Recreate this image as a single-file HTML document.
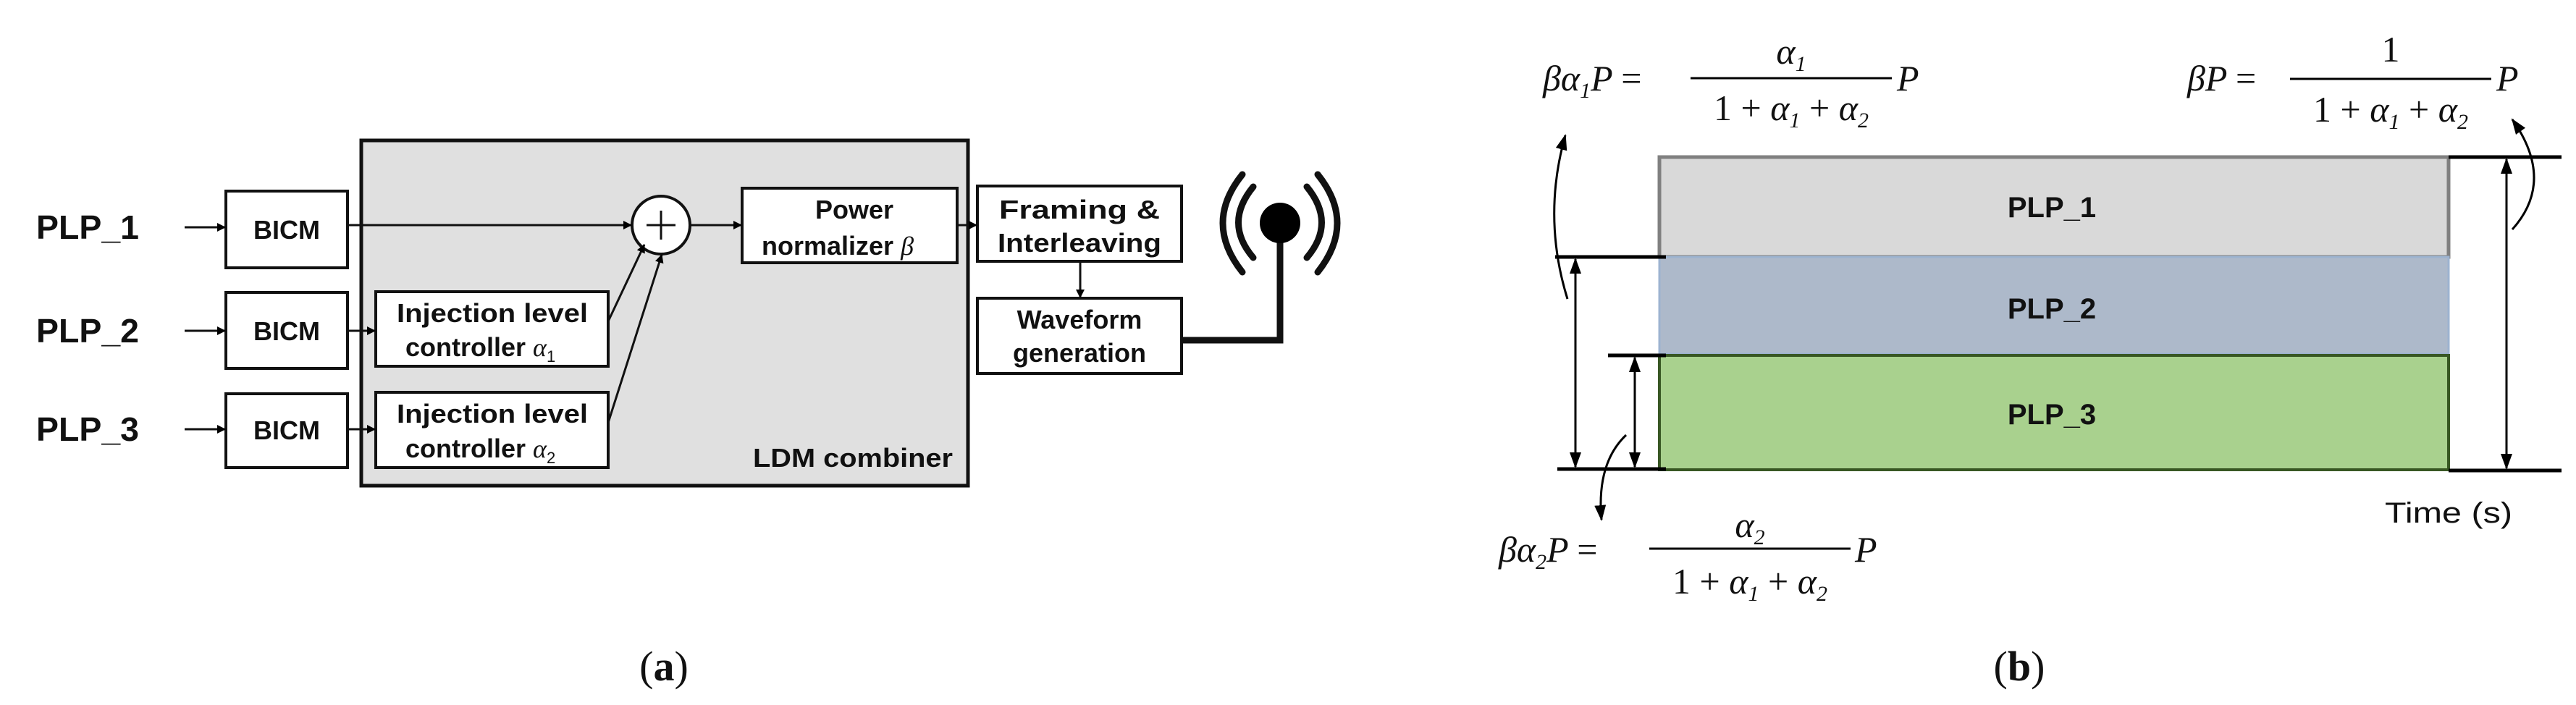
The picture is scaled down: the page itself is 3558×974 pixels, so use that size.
<!DOCTYPE html>
<html><head><meta charset="utf-8"><style>
html,body{margin:0;padding:0;background:#fff;}
svg{display:block;}
.b{font-family:"Liberation Sans",sans-serif;font-weight:bold;fill:#111;}
.m{font-family:"Liberation Serif",serif;font-style:italic;fill:#111;}
.r{font-family:"Liberation Serif",serif;font-style:normal;fill:#111;}
</style></head><body>
<svg width="3558" height="974" viewBox="0 0 3558 974" xmlns="http://www.w3.org/2000/svg">
<defs>
<marker id="ah" markerWidth="12" markerHeight="12" refX="11" refY="6" orient="auto" markerUnits="userSpaceOnUse">
<path d="M0,0 L12,6 L0,12 z" fill="#000"/></marker>
<marker id="ah2" markerWidth="22" markerHeight="22" refX="20" refY="11" orient="auto-start-reverse" markerUnits="userSpaceOnUse">
<path d="M0,3 L22,11 L0,19 z" fill="#000"/></marker>
</defs>
<!-- (a) -->
<g stroke="#111" stroke-width="4" fill="none">
<rect x="499" y="194" width="838" height="477" fill="#e0e0e0" stroke-width="5"/>
<rect x="312" y="264" width="168" height="106" fill="#fff"/>
<rect x="312" y="404" width="168" height="105" fill="#fff"/>
<rect x="312" y="544" width="168" height="102" fill="#fff"/>
<rect x="519" y="403" width="321" height="103" fill="#fff"/>
<rect x="519" y="542" width="321" height="104" fill="#fff"/>
<rect x="1025" y="260" width="297" height="103" fill="#fff"/>
<rect x="1350" y="257" width="282" height="104" fill="#fff"/>
<rect x="1350" y="412" width="282" height="104" fill="#fff"/>
<circle cx="913" cy="311" r="40" fill="#fff"/>
<line x1="893" y1="311" x2="933" y2="311" stroke-width="3"/>
<line x1="913" y1="291" x2="913" y2="331" stroke-width="3"/>
<g stroke-width="3" marker-end="url(#ah)">
<line x1="255" y1="314" x2="311" y2="314"/>
<line x1="255" y1="457" x2="311" y2="457"/>
<line x1="255" y1="593" x2="311" y2="593"/>
<line x1="480" y1="311" x2="872" y2="311"/>
<line x1="480" y1="457" x2="518" y2="457"/>
<line x1="480" y1="593" x2="518" y2="593"/>
<line x1="840" y1="444" x2="890" y2="338"/>
<line x1="840" y1="584" x2="914" y2="352"/>
<line x1="953" y1="311" x2="1024" y2="311"/>
<line x1="1322" y1="311" x2="1349" y2="311"/>
<line x1="1492" y1="361" x2="1492" y2="411"/>
</g>
<polyline points="1632,470 1768,470 1768,308" stroke-width="9"/>
<g stroke-width="9" stroke-linecap="round">
<path d="M1716,241 Q1662,308 1716,376"/>
<path d="M1731,258 Q1690,308 1731,356"/>
<path d="M1820,241 Q1874,308 1820,376"/>
<path d="M1805,258 Q1846,308 1805,356"/>
</g>
</g>
<circle cx="1768" cy="308" r="28" fill="#000"/>
<g class="b" font-size="46">
<text x="50" y="330" textLength="142" lengthAdjust="spacingAndGlyphs">PLP_1</text>
<text x="50" y="473" textLength="142" lengthAdjust="spacingAndGlyphs">PLP_2</text>
<text x="50" y="609" textLength="142" lengthAdjust="spacingAndGlyphs">PLP_3</text>
</g>
<g class="b" font-size="36" text-anchor="middle">
<text x="396" y="330">BICM</text>
<text x="396" y="470">BICM</text>
<text x="396" y="607">BICM</text>
<text x="680" y="445" textLength="264" lengthAdjust="spacingAndGlyphs">Injection level</text>
<text x="1180" y="302">Power</text>
<text x="1491" y="302" textLength="222" lengthAdjust="spacingAndGlyphs">Framing &amp;</text>
<text x="1491" y="348" textLength="226" lengthAdjust="spacingAndGlyphs">Interleaving</text>
<text x="1491" y="454">Waveform</text>
<text x="1491" y="500">generation</text>
<text x="680" y="584" textLength="264" lengthAdjust="spacingAndGlyphs">Injection level</text>
</g>
<g class="b" font-size="36">
<text x="560" y="492">controller <tspan class="m" font-weight="normal">α</tspan><tspan font-size="22" font-weight="normal" dy="8">1</tspan></text>
<text x="560" y="632">controller <tspan class="m" font-weight="normal">α</tspan><tspan font-size="22" font-weight="normal" dy="8">2</tspan></text>
<text x="1052" y="352">normalizer <tspan class="m" font-weight="normal">β</tspan></text>
<text x="1040" y="645" textLength="276" lengthAdjust="spacingAndGlyphs">LDM combiner</text>
</g>
<text class="r" x="917" y="940" font-size="58" text-anchor="middle">(<tspan font-weight="bold">a</tspan>)</text>
<!-- (b) -->
<rect x="2292" y="217" width="1090" height="138" fill="#d9d9d9" stroke="#808080" stroke-width="5"/>
<rect x="2292" y="355" width="1090" height="134" fill="#adb9ca" stroke="#9db3d0" stroke-width="3"/>
<rect x="2292" y="491" width="1090" height="158" fill="#a9d18e" stroke="#385723" stroke-width="4"/>
<g class="b" font-size="40" text-anchor="middle">
<text x="2834" y="300">PLP_1</text>
<text x="2834" y="440">PLP_2</text>
<text x="2834" y="586">PLP_3</text>
</g>
<g stroke="#000" stroke-width="5" fill="none">
<line x1="3382" y1="217" x2="3538" y2="217"/>
<line x1="3382" y1="650" x2="3538" y2="650"/>
<line x1="2148" y1="355" x2="2301" y2="355"/>
<line x1="2221" y1="491" x2="2301" y2="491"/>
<line x1="2151" y1="648" x2="2301" y2="648"/>
</g>
<g stroke="#000" stroke-width="3" fill="none">
<line x1="3462" y1="220" x2="3462" y2="647" marker-start="url(#ah2)" marker-end="url(#ah2)"/>
<line x1="2176" y1="358" x2="2176" y2="645" marker-start="url(#ah2)" marker-end="url(#ah2)"/>
<line x1="2258" y1="494" x2="2258" y2="645" marker-start="url(#ah2)" marker-end="url(#ah2)"/>
<path d="M2165,413 Q2130,300 2162,187" marker-end="url(#ah2)"/>
<path d="M3470,317 Q3530,250 3470,165" marker-end="url(#ah2)"/>
<path d="M2246,601 Q2205,640 2212,718" marker-end="url(#ah2)"/>
</g>
<g class="m" font-size="50">
<text x="2131" y="125">βα<tspan font-size="30" dy="10">1</tspan><tspan dy="-10">P</tspan> <tspan class="r">=</tspan></text>
<text x="2474" y="88" text-anchor="middle">α<tspan font-size="30" dy="10">1</tspan></text>
<text x="2474" y="166" text-anchor="middle"><tspan class="r">1 + </tspan>α<tspan font-size="30" dy="10">1</tspan><tspan class="r" dy="-10"> + </tspan>α<tspan font-size="30" dy="10">2</tspan></text>
<text x="2620" y="125">P</text>
<text x="3021" y="125">βP <tspan class="r">=</tspan></text>
<text x="3302" y="85" text-anchor="middle" class="r">1</text>
<text x="3302" y="168" text-anchor="middle"><tspan class="r">1 + </tspan>α<tspan font-size="30" dy="10">1</tspan><tspan class="r" dy="-10"> + </tspan>α<tspan font-size="30" dy="10">2</tspan></text>
<text x="3448" y="125">P</text>
<text x="2070" y="776">βα<tspan font-size="30" dy="10">2</tspan><tspan dy="-10">P</tspan> <tspan class="r">=</tspan></text>
<text x="2417" y="742" text-anchor="middle">α<tspan font-size="30" dy="10">2</tspan></text>
<text x="2417" y="820" text-anchor="middle"><tspan class="r">1 + </tspan>α<tspan font-size="30" dy="10">1</tspan><tspan class="r" dy="-10"> + </tspan>α<tspan font-size="30" dy="10">2</tspan></text>
<text x="2562" y="776">P</text>
</g>
<g stroke="#000" stroke-width="3">
<line x1="2335" y1="108" x2="2613" y2="108"/>
<line x1="3163" y1="109" x2="3441" y2="109"/>
<line x1="2278" y1="758" x2="2556" y2="758"/>
</g>
<text x="3294" y="722" font-family="Liberation Sans, sans-serif" font-size="40" fill="#111" textLength="176" lengthAdjust="spacingAndGlyphs">Time (s)</text>
<text class="r" x="2789" y="940" font-size="58" text-anchor="middle">(<tspan font-weight="bold">b</tspan>)</text>
</svg>
</body></html>
